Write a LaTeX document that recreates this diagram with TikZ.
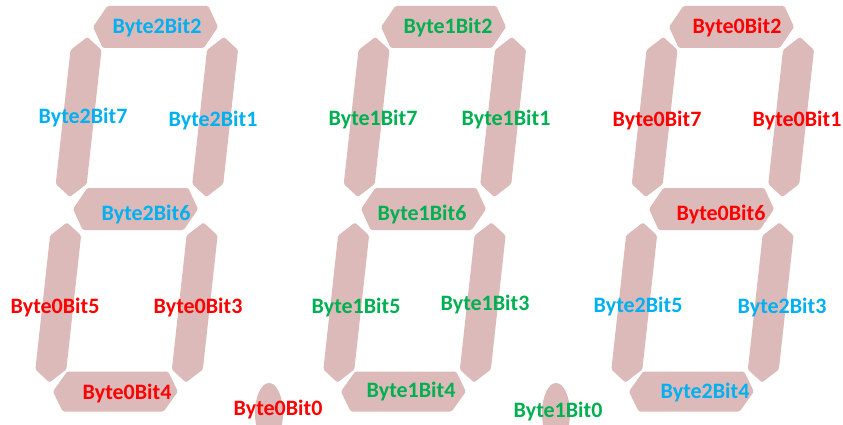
\documentclass[tikz,border=0pt]{standalone}
\usepackage{fontspec}
\setmainfont{Carlito}
\definecolor{seg}{RGB}{219,186,185}
\definecolor{lblue}{RGB}{0,176,240}
\definecolor{lgreen}{RGB}{0,176,80}
\definecolor{lred}{RGB}{255,0,0}
\tikzset{
  segment/.style={fill=seg, draw=none, rounded corners=1.5pt},
  lbl/.style={font=\fontsize{22}{22}\selectfont\bfseries, anchor=base, inner sep=0pt},
  bzero/.style={lbl, text=lred},
  bone/.style={lbl, text=lgreen},
  btwo/.style={lbl, text=lblue}
}
\begin{document}
\begin{tikzpicture}[x=1pt,y=-1pt]
\useasboundingbox (0,0) rectangle (843,425);
\clip (0,0) rectangle (843,425);
% digits
\foreach \dx in {0,288,576} {
  \begin{scope}[shift={(135.5+\dx,209)}, y={(-0.11pt,-1pt)}]
    \foreach \cy/\hh in {-182/21,0/21,182.5/20}
      \fill[segment] (-62.5,\cy) -- (-50.5,\cy-\hh) -- (50.5,\cy-\hh) -- (62.5,\cy)
                     -- (50.5,\cy+\hh) -- (-50.5,\cy+\hh) -- cycle;
    \foreach \cx in {-67,69.5}
      \foreach \cy in {-92,93.5}
        \fill[segment] (\cx,\cy-80) -- (\cx+15.5,\cy-67) -- (\cx+15.5,\cy+67)
                       -- (\cx,\cy+80) -- (\cx-15.5,\cy+67) -- (\cx-15.5,\cy-67) -- cycle;
  \end{scope}
}
% decimal points
\fill[segment] (269,413) ellipse [x radius=14, y radius=30];
\fill[segment] (556,413) ellipse [x radius=14, y radius=30];
% labels digit 1
\node[btwo]  (l22) at (157,34)  {Byte2Bit2};
\node[btwo]  (l27) at (83,124)  {Byte2Bit7};
\node[btwo]  (l21) at (213,127) {Byte2Bit1};
\node[btwo]  (l26) at (146,220) {Byte2Bit6};
\node[bzero] (l05) at (55,313)  {Byte0Bit5};
\node[bzero] (l03) at (198,313) {Byte0Bit3};
\node[bzero] (l04) at (127,399) {Byte0Bit4};
\node[bzero] (l00) at (278,415) {Byte0Bit0};
% labels digit 2
\node[bone] (l12) at (448,34)  {Byte1Bit2};
\node[bone] (l17) at (373,125) {Byte1Bit7};
\node[bone] (l11) at (506,125) {Byte1Bit1};
\node[bone] (l16) at (422,220) {Byte1Bit6};
\node[bone] (l15) at (356,313) {Byte1Bit5};
\node[bone] (l13) at (485,310) {Byte1Bit3};
\node[bone] (l14) at (411,397) {Byte1Bit4};
\node[bone] (l10) at (558,417) {Byte1Bit0};
% labels digit 3
\node[bzero] (l02) at (737,34)  {Byte0Bit2};
\node[bzero] (l07) at (657,127) {Byte0Bit7};
\node[bzero] (l01) at (797,127) {Byte0Bit1};
\node[bzero] (l06) at (721,220) {Byte0Bit6};
\node[btwo]  (l25) at (638,312) {Byte2Bit5};
\node[btwo]  (l23) at (782,313) {Byte2Bit3};
\node[btwo]  (l24) at (705,398) {Byte2Bit4};
\end{tikzpicture}
\end{document}
